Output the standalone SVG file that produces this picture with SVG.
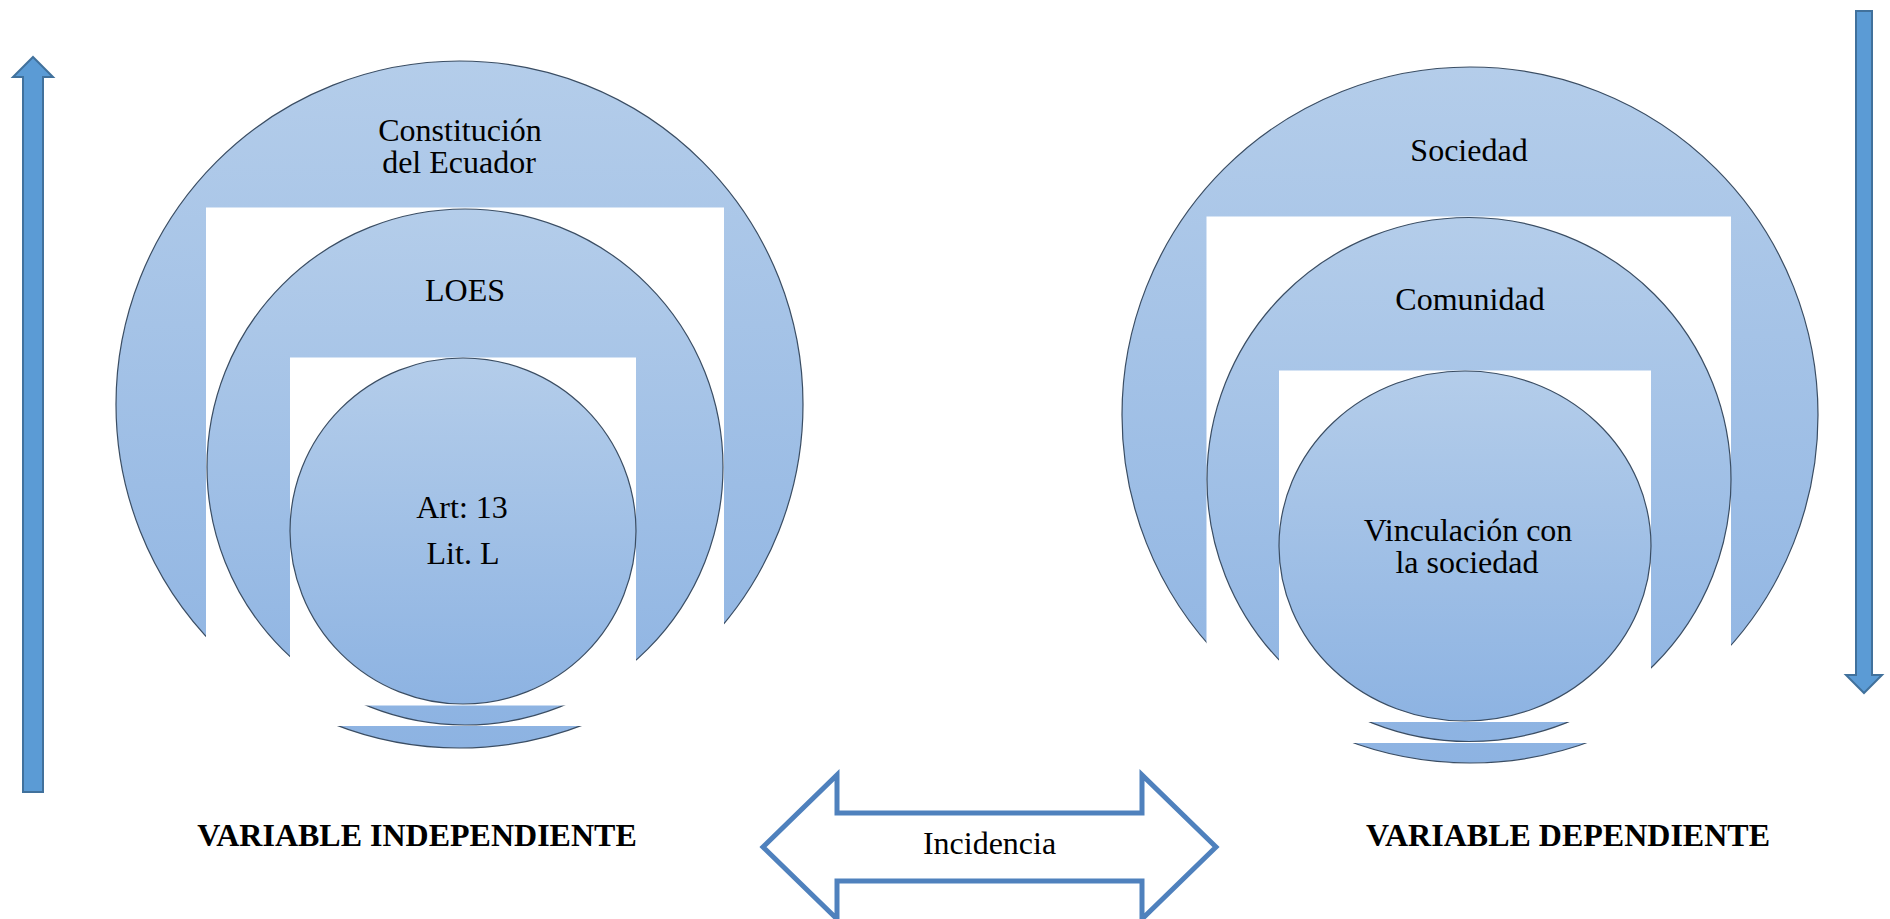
<svg xmlns="http://www.w3.org/2000/svg" width="1890" height="919" viewBox="0 0 1890 919">
  <defs>
    <linearGradient id="blueGrad" x1="0" y1="0" x2="0" y2="1">
      <stop offset="0" stop-color="#b4cdea"/>
      <stop offset="1" stop-color="#8db3e2"/>
    </linearGradient>
  </defs>
  <style>
    .ring { fill: url(#blueGrad); stroke: #3a4d63; stroke-width: 1.2; }
    .mask { fill: #ffffff; stroke: none; }
    .lbl { font-family: "Liberation Serif", "Times New Roman", serif; font-size: 32px; fill: #000000; text-anchor: middle; }
    .title { font-family: "Liberation Serif", "Times New Roman", serif; font-size: 32px; font-weight: bold; fill: #000000; text-anchor: middle; }
    .varrow { fill: #5b9bd5; stroke: #41719c; stroke-width: 2; }
    .harrow { fill: #ffffff; stroke: #4f81bd; stroke-width: 5; stroke-linejoin: miter; }
  </style>

  <rect x="0" y="0" width="1890" height="919" fill="#ffffff"/>

  <!-- Left nested target -->
  <g id="constitucion">
    <circle class="ring" cx="459.5" cy="404.5" r="343.5"/>
    <rect class="mask" x="206" y="207.5" width="518" height="518.5"/>
    <text class="lbl"><tspan x="460" y="141">Constitución</tspan><tspan x="459" y="173">del Ecuador</tspan></text>
  </g>
  <g id="loes">
    <circle class="ring" cx="465" cy="467" r="258"/>
    <rect class="mask" x="290" y="357.5" width="346" height="348"/>
    <text class="lbl" x="465" y="301">LOES</text>
  </g>
  <g id="art13">
    <circle class="ring" cx="463" cy="531" r="173"/>
    <text class="lbl"><tspan x="462" y="518">Art: 13</tspan><tspan x="463" y="564">Lit. L</tspan></text>
  </g>

  <!-- Right nested target -->
  <g id="sociedad">
    <circle class="ring" cx="1470" cy="415" r="348"/>
    <rect class="mask" x="1206.5" y="216.5" width="524.5" height="526.5"/>
    <text class="lbl" x="1469" y="161">Sociedad</text>
  </g>
  <g id="comunidad">
    <circle class="ring" cx="1469" cy="479.5" r="262"/>
    <rect class="mask" x="1279" y="370.5" width="372" height="351.5"/>
    <text class="lbl" x="1470" y="310">Comunidad</text>
  </g>
  <g id="vinculacion">
    <ellipse class="ring" cx="1465" cy="546" rx="186" ry="175"/>
    <text class="lbl"><tspan x="1468" y="541">Vinculación con</tspan><tspan x="1467" y="573">la sociedad</tspan></text>
  </g>

  <!-- Labels -->
  <g id="variable-independiente">
    <text class="title" x="417" y="846">VARIABLE INDEPENDIENTE</text>
  </g>
  <g id="variable-dependiente">
    <text class="title" x="1568" y="846">VARIABLE DEPENDIENTE</text>
  </g>

  <!-- Connectors / arrows -->
  <g id="connectors">
    <polygon class="varrow" points="33,57 53,77 43,77 43,792 23,792 23,77 13,77"/>
    <polygon class="varrow" points="1856,11 1872,11 1872,675 1882,675 1864,693 1846,675 1856,675"/>
    <polygon class="harrow" points="763,847 837,775 837,813 1142,813 1142,775 1216,847 1142,919 1142,881 837,881 837,919"/>
  </g>
  <g id="incidencia">
    <text class="lbl" x="989.5" y="854">Incidencia</text>
  </g>
</svg>
